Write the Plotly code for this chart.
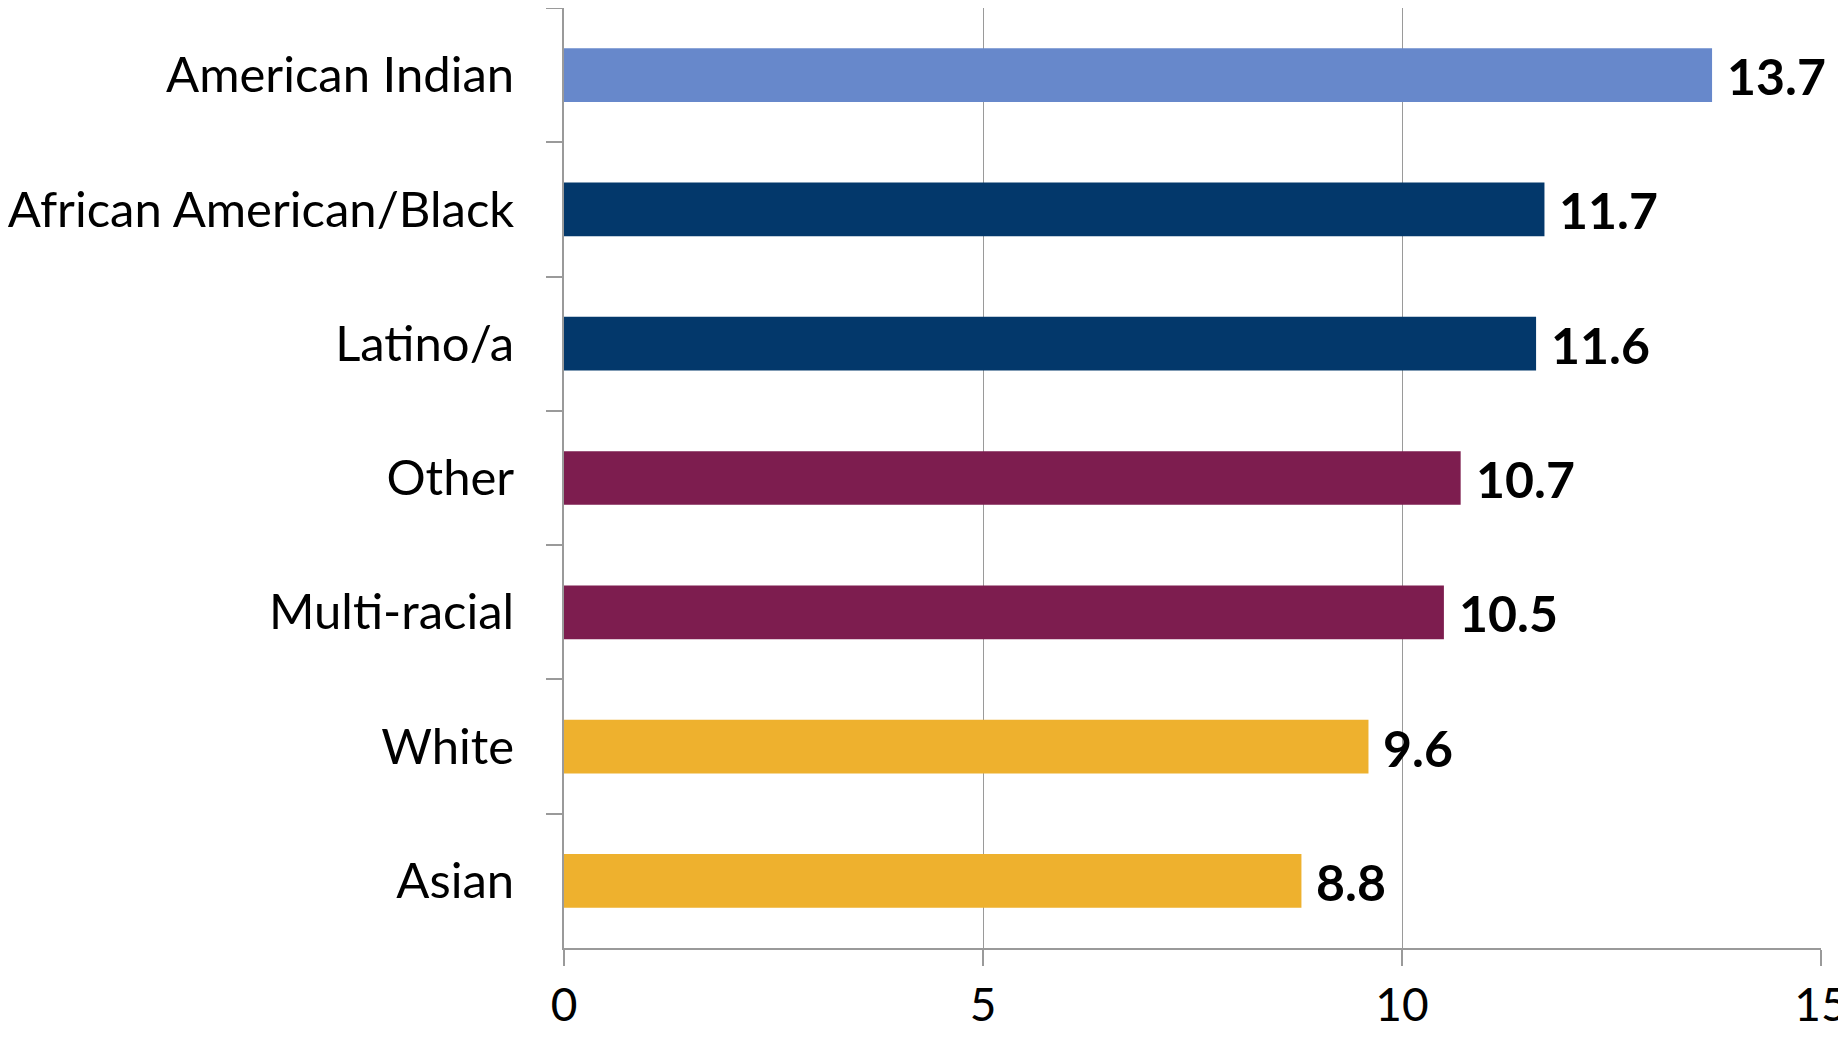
import plotly.graph_objects as go

categories = ["American Indian", "African American/Black", "Latino/a", "Other",
              "Multi-racial", "White", "Asian"]
values = [13.7, 11.7, 11.6, 10.7, 10.5, 9.6, 8.8]
colors = ["#6788CB", "#03386B", "#03386B", "#7D1D4F", "#7D1D4F", "#EEB12E", "#EEB12E"]
x_ticks = [0, 5, 10, 15]

fig = go.Figure()
fig.add_trace(go.Bar(
    y=categories, x=values, orientation="h",
    marker=dict(color=colors, line=dict(width=0)),
    hoverinfo="skip",
))

for c, v in zip(categories, values):
    fig.add_annotation(
        x=v, y=c, xref="x", yref="y", text=f"<b>{v:.1f}</b>",
        showarrow=False, xanchor="left", yanchor="middle", xshift=13, yshift=-1,
        font=dict(family="Lato", size=50, color="#000000"),
    )

fig.update_layout(
    width=1846, height=1044,
    margin=dict(l=556, r=33, t=0, b=104, autoexpand=False),
    paper_bgcolor="white", plot_bgcolor="white",
    bargap=0.6, showlegend=False,
    font=dict(family="Lato", color="#000000"),
)
fig.update_xaxes(
    range=[0, 15], tickvals=x_ticks, ticktext=[str(t) for t in x_ticks],
    showgrid=True, gridcolor="#9A9A9A", gridwidth=1.3,
    showline=True, linecolor="#9A9A9A", linewidth=2,
    ticks="outside", ticklen=16, tickcolor="#9A9A9A", tickwidth=2,
    tickfont=dict(family="Lato", size=46, color="#000000"),
    zeroline=False, ticklabeloverflow="allow", automargin=False,
)
fig.update_yaxes(
    categoryorder="array", categoryarray=categories, autorange="reversed",
    tickson="boundaries", ticks="outside", ticklen=16, tickcolor="#9A9A9A", tickwidth=2,
    showline=True, linecolor="#9A9A9A", linewidth=2,
    showgrid=False, automargin=False,
    tickfont=dict(family="Lato", size=49, color="#000000"),
    ticklabelstandoff=38,
)

fig.write_html("out.html")
